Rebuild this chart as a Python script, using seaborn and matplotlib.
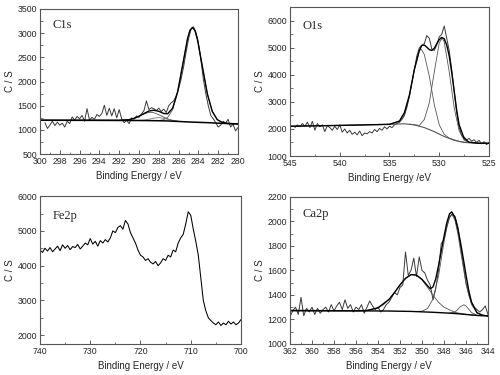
import numpy as np
import pandas as pd
import seaborn as sns
import matplotlib
matplotlib.use('Agg')
import matplotlib.pyplot as plt
from matplotlib.ticker import MultipleLocator

# ---- C1s ----
c1s_be = np.linspace(299.5, 280.0, 79)
c1s_counts = [1150, 1030, 1100, 1180, 1090, 1160, 1100, 1140, 1060, 1180,
              1130, 1270, 1200, 1280, 1230, 1300, 1180, 1440, 1200, 1260,
              1220, 1320, 1280, 1340, 1510, 1300, 1450, 1290, 1440, 1250,
              1420, 1230, 1150, 1200, 1130, 1250, 1220, 1290, 1260, 1330,
              1400, 1600, 1420, 1460, 1440, 1400, 1450, 1380, 1430, 1360,
              1500, 1560, 1600, 1700, 1850, 2050, 2300, 2600, 2880, 3080,
              3130, 3020, 2800, 2450, 2050, 1750, 1500, 1300, 1230, 1150,
              1060, 1100, 1180, 1140, 1220, 1060, 1120, 980, 1050]
c1s_bg_x = [300, 294, 290, 288, 287, 286, 285, 284, 283, 282, 281, 280]
c1s_bg_y = [1200, 1198, 1195, 1190, 1185, 1175, 1165, 1157, 1150, 1140, 1132, 1125]
c1s_main_x = [288.1, 287.6, 287.1, 286.6, 286.1, 285.6, 285.1, 284.85, 284.6,
              284.35, 284.1, 283.6, 283.1, 282.6, 282.1, 281.6, 281]
c1s_main_y = [1193, 1206, 1259, 1421, 1777, 2331, 2884, 3059, 3120,
              3054, 2874, 2311, 1749, 1384, 1214, 1155, 1132]
c1s_p2_x = [292, 291, 290.5, 290, 289.5, 289, 288.8, 288.5, 288, 287.5, 287, 286.5, 286]
c1s_p2_y = [1198, 1213, 1239, 1281, 1330, 1362, 1364, 1356, 1316, 1264, 1221, 1194, 1179]
c1s_p3_x = [290, 289.5, 289, 288.5, 288, 287.5, 287, 286.5, 286]
c1s_p3_y = [1197, 1203, 1221, 1243, 1255, 1240, 1213, 1189, 1177]
c1s_env_x = [300, 292, 291, 290.5, 290, 289.5, 289, 288.5, 288, 287.5, 287.1, 286.6,
             286.1, 285.6, 285.1, 284.85, 284.6, 284.35, 284.1, 283.6, 283.1,
             282.6, 282.1, 281.6, 281, 280]
c1s_env_y = [1200, 1198, 1213, 1239, 1283, 1339, 1390, 1408, 1385, 1340, 1335, 1450,
             1785, 2332, 2884, 3059, 3120, 3054, 2874, 2311, 1749,
             1384, 1214, 1155, 1132, 1125]

# ---- O1s ----
o1s_be = np.linspace(544.5, 525.0, 79)
o1s_counts = [2050, 2150, 2080, 2200, 2100, 2250, 2050, 2280, 1950, 2200,
              2080, 2150, 1900, 2120, 2050, 1950, 2100, 1980, 2150, 1880,
              2000, 1850, 1950, 1800, 1880, 1780, 1920, 1750, 1850, 1820,
              1900, 1850, 1980, 1900, 2020, 1950, 2080, 2000, 2100, 2050,
              2150, 2200, 2250, 2350, 2500, 2800, 3200, 3700, 4200, 4700,
              5000, 5100, 5150, 5450, 5350, 4950, 4900, 5100, 5400, 5500,
              5800, 5350, 4900, 4200, 3400, 2600, 2050, 1750, 1700, 1600,
              1650, 1550, 1600, 1500, 1580, 1450, 1530, 1420, 1500]
o1s_bg_x = [545, 540, 535, 533.5, 532.5, 531.5, 530.5, 529.5, 528.5, 527.5, 526, 525]
o1s_bg_y = [2100, 2130, 2170, 2190, 2150, 2050, 1900, 1720, 1580, 1500, 1470, 1470]
o1s_p1_x = [535, 534, 533.5, 533, 532.5, 532, 531.8, 531.5, 531, 530.5, 530, 529.5, 529, 528, 527]
o1s_p1_y = [2170, 2285, 2575, 3230, 4190, 4890, 4940, 4750, 3950, 2900, 2150, 1800, 1660, 1540, 1490]
o1s_p2_x = [533, 532, 531.5, 531, 530.5, 530, 529.7, 529.5, 529, 528.5, 528, 527.5, 527, 526]
o1s_p2_y = [2180, 2130, 2350, 2960, 4100, 5180, 5360, 5210, 4120, 2780, 1930, 1590, 1500, 1470]
o1s_env_x = [545, 540, 535, 534, 533.5, 533, 532.5, 532, 531.75, 531.5, 531.25, 531,
             530.75, 530.5, 530.25, 530, 529.75, 529.5, 529.25, 529, 528.75, 528.5,
             528.25, 528, 527.5, 527, 526, 525]
o1s_env_y = [2100, 2130, 2170, 2290, 2600, 3250, 4200, 4900, 5080, 5100, 5020, 4930,
             4900, 4980, 5150, 5300, 5380, 5330, 5100, 4700, 4100, 3400,
             2700, 2150, 1650, 1510, 1470, 1470]

# ---- Fe2p ----
fe2p_be = np.linspace(740.0, 700.0, 81)
fe2p_counts = [4450, 4380, 4500, 4420, 4520, 4400, 4480, 4560, 4430, 4600,
               4500, 4580, 4460, 4550, 4520, 4610, 4480, 4560, 4650, 4600,
               4780, 4620, 4700, 4560, 4720, 4650, 4750, 4680, 4800, 5000,
               4950, 5100, 5150, 5050, 5300, 5200, 4950, 4800, 4650, 4450,
               4300, 4250, 4150, 4200, 4100, 4050, 4120, 4000, 4080, 4200,
               4150, 4300, 4250, 4450, 4400, 4650, 4800, 4900, 5200, 5550,
               5450, 5050, 4700, 4300, 3650, 3000, 2700, 2500, 2420, 2350,
               2300, 2380, 2280, 2350, 2300, 2400, 2320, 2380, 2300, 2350,
               2450]

# ---- Ca2p ----
ca2p_be = np.linspace(362.0, 344.0, 73)
ca2p_counts = [1220, 1270, 1300, 1240, 1380, 1230, 1290, 1260, 1300, 1240,
               1290, 1250, 1280, 1300, 1260, 1320, 1270, 1310, 1340, 1280,
               1360, 1290, 1320, 1260, 1300, 1280, 1320, 1250, 1300, 1350,
               1310, 1280, 1300, 1260, 1280, 1320, 1340, 1380, 1420, 1400,
               1460, 1480, 1750, 1560, 1600, 1700, 1550, 1710, 1600, 1580,
               1520, 1480, 1360, 1450, 1600, 1820, 1850, 1950, 2030, 2060,
               2040, 1960, 1800, 1650, 1500, 1400, 1340, 1300, 1280, 1260,
               1280, 1310, 1240]
ca2p_bg_x = [362, 356, 353, 351, 349, 347, 346, 345, 344]
ca2p_bg_y = [1272, 1270, 1268, 1265, 1258, 1248, 1240, 1232, 1228]
ca2p_pa_x = [356, 355, 354, 353.5, 353, 352.5, 352, 351.5, 351, 350.8, 350.5, 350,
             349.5, 349, 348.5, 348, 347, 346, 345]
ca2p_pa_y = [1270, 1273, 1294, 1321, 1363, 1419, 1481, 1535, 1565, 1567, 1560, 1522,
             1462, 1397, 1340, 1299, 1257, 1241, 1232]
ca2p_pb_x = [350.5, 350, 349.5, 349, 348.5, 348, 347.75, 347.5, 347.3, 347, 346.75,
             346.5, 346, 345.5, 345, 344.5, 344]
ca2p_pb_y = [1265, 1267, 1288, 1367, 1553, 1830, 1955, 2038, 2059, 2009, 1903,
             1764, 1491, 1321, 1253, 1234, 1228]
ca2p_pc_x = [347.5, 347, 346.75, 346.5, 346.2, 346, 345.75, 345.5, 345, 344.5]
ca2p_pc_y = [1251, 1261, 1280, 1305, 1319, 1310, 1282, 1256, 1233, 1230]
ca2p_env_x = [362, 356, 355, 354, 353, 352.5, 352, 351.5, 351, 350.5, 350, 349.5, 349.25,
              349, 348.75, 348.5, 348, 347.75, 347.5, 347.3, 347, 346.75, 346.5, 346.2,
              346, 345.75, 345.5, 345, 344.5, 344]
ca2p_env_y = [1272, 1270, 1273, 1294, 1363, 1419, 1481, 1535, 1565, 1561, 1527, 1475, 1450,
              1465, 1530, 1638, 1876, 1987, 2061, 2078, 2031, 1943, 1829, 1671,
              1562, 1436, 1341, 1254, 1234, 1228]

sns.set_theme(style="ticks")
plt.rcParams['font.family'] = ['Liberation Sans', 'DejaVu Sans']
plt.rcParams['axes.linewidth'] = 0.8

fig = plt.figure(figsize=(5, 3.75), dpi=100)
raw_c = '#3a3a3a'
fit_c = '#555555'


def style(ax, xlim, ylim, xmaj, xmin, ymaj, ymin, xlabel, name, ty):
    ax.set_xlim(*xlim)
    ax.set_ylim(*ylim)
    ax.xaxis.set_major_locator(MultipleLocator(xmaj))
    ax.xaxis.set_minor_locator(MultipleLocator(xmin))
    ax.yaxis.set_major_locator(MultipleLocator(ymaj))
    ax.yaxis.set_minor_locator(MultipleLocator(ymin))
    ax.tick_params(which='both', direction='in', labelsize=6.3, pad=2, color='#444444')
    ax.tick_params(which='major', length=3, width=0.6)
    ax.tick_params(which='minor', length=1.8, width=0.5)
    ax.set_xlabel(xlabel, fontsize=7, labelpad=4)
    ax.set_ylabel('C / S', fontsize=7, labelpad=2)
    for s in ax.spines.values():
        s.set_color('#555555')
    ax.text(0.065, ty, name, transform=ax.transAxes, va='top', ha='left',
            fontsize=9, family='Liberation Serif')


def line(ax, x, y, c, lw):
    sns.lineplot(x=x, y=y, ax=ax, color=c, lw=lw, estimator=None, sort=False)


ax1 = fig.add_axes([0.08, 0.589, 0.396, 0.387])
line(ax1, c1s_be, c1s_counts, raw_c, 0.7)
line(ax1, c1s_main_x, c1s_main_y, fit_c, 0.6)
line(ax1, c1s_p2_x, c1s_p2_y, fit_c, 0.6)
line(ax1, c1s_p3_x, c1s_p3_y, '#777777', 0.6)
line(ax1, c1s_bg_x, c1s_bg_y, 'black', 1.1)
line(ax1, c1s_env_x, c1s_env_y, 'black', 1.0)
style(ax1, (300, 280), (500, 3500), 2, 1, 500, 250, 'Binding Energy / eV', 'C1s', 0.93)

ax2 = fig.add_axes([0.58, 0.584, 0.398, 0.397])
line(ax2, o1s_be, o1s_counts, raw_c, 0.7)
line(ax2, o1s_p1_x, o1s_p1_y, fit_c, 0.6)
line(ax2, o1s_p2_x, o1s_p2_y, fit_c, 0.6)
line(ax2, o1s_bg_x, o1s_bg_y, fit_c, 0.8)
line(ax2, o1s_env_x, o1s_env_y, 'black', 1.0)
style(ax2, (545, 525), (1000, 6500), 5, 2.5, 1000, 500, 'Binding Energy /eV', 'O1s', 0.915)

ax3 = fig.add_axes([0.08, 0.083, 0.402, 0.394])
line(ax3, fe2p_be, fe2p_counts, 'black', 0.75)
style(ax3, (740, 700), (1750, 6000), 10, 5, 1000, 500, 'Binding Energy / eV', 'Fe2p', 0.905)

ax4 = fig.add_axes([0.58, 0.083, 0.396, 0.392])
line(ax4, ca2p_be, ca2p_counts, raw_c, 0.7)
line(ax4, ca2p_pb_x, ca2p_pb_y, fit_c, 0.6)
line(ax4, ca2p_pc_x, ca2p_pc_y, fit_c, 0.6)
line(ax4, ca2p_pa_x, ca2p_pa_y, fit_c, 0.6)
line(ax4, ca2p_bg_x, ca2p_bg_y, 'black', 1.0)
line(ax4, ca2p_env_x, ca2p_env_y, 'black', 1.0)
style(ax4, (362, 344), (1000, 2200), 2, 1, 200, 100, 'Binding Energy / eV', 'Ca2p', 0.925)

fig.savefig('out.png', dpi=100)
